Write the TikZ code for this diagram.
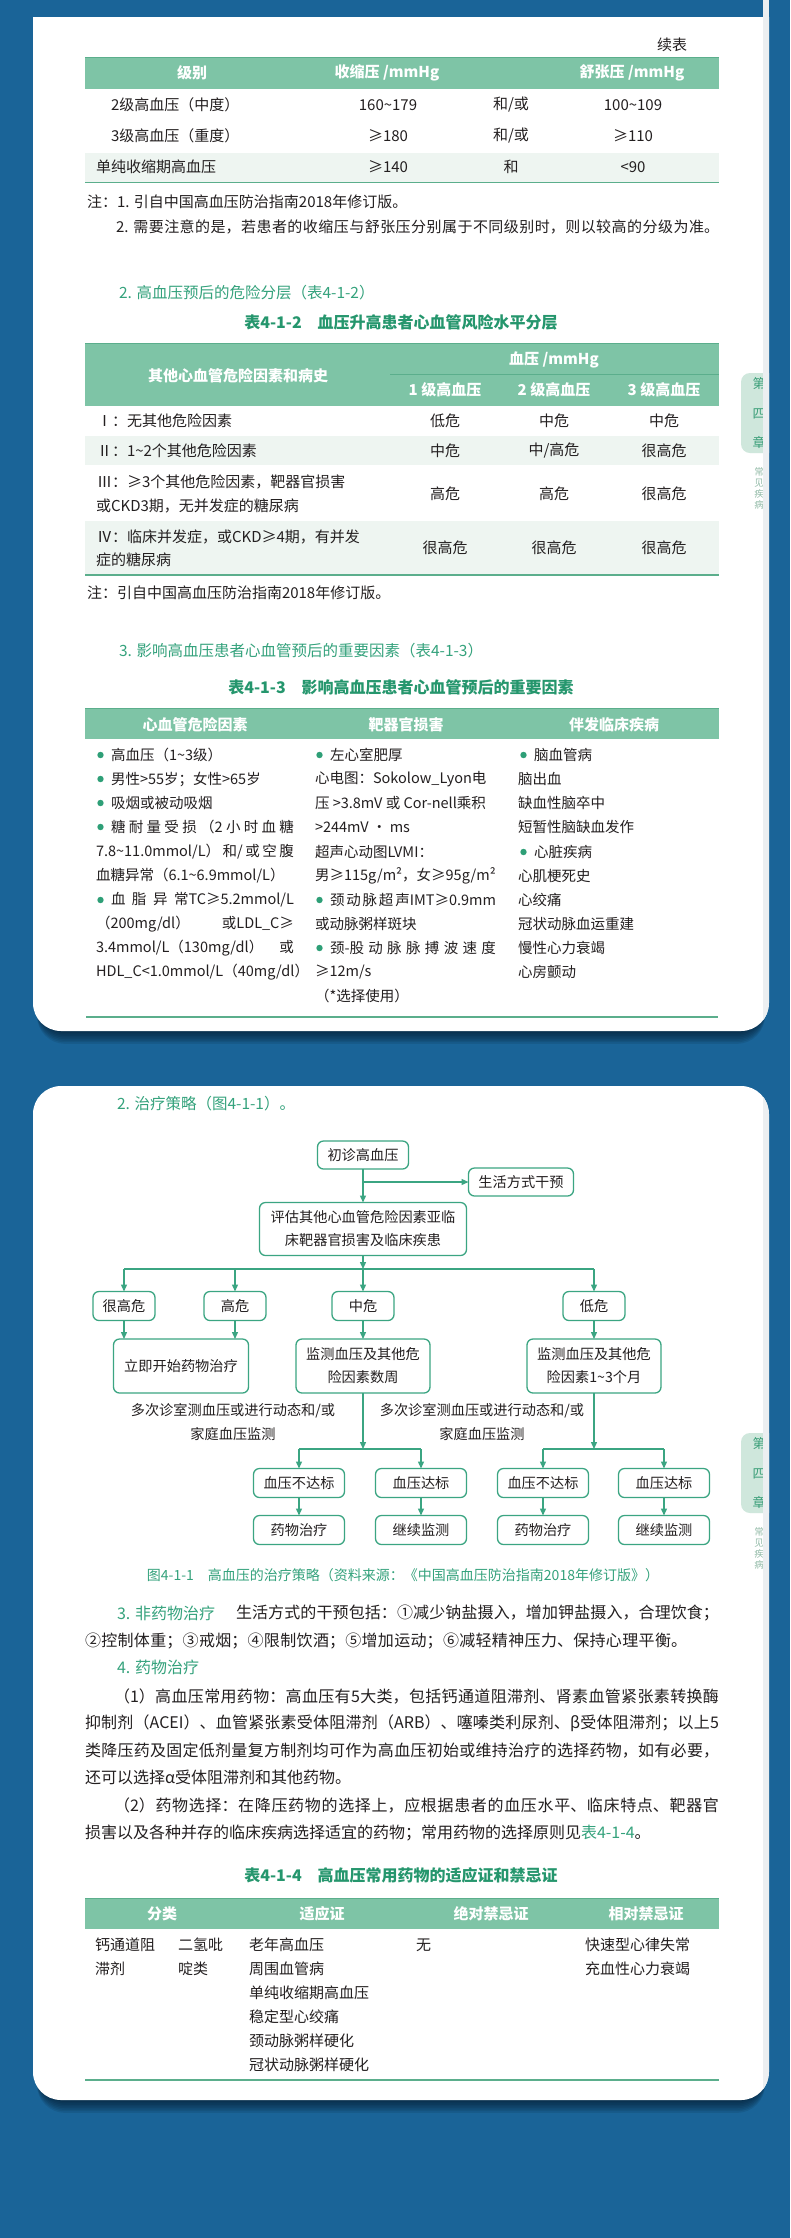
\documentclass[tikz,border=0pt]{standalone}
\usepackage{fontspec}
\setmainfont{Noto Sans CJK SC}
\usetikzlibrary{arrows.meta}
\definecolor{bgblue}{HTML}{1A6498}
\definecolor{shad}{HTML}{041A2C}
\definecolor{hdrgreen}{HTML}{7EC4A6}
\definecolor{rulegreen}{HTML}{5BAE8C}
\definecolor{rowfill}{HTML}{EEF5F1}
\definecolor{secgreen}{HTML}{34A27C}
\definecolor{ttlgreen}{HTML}{25966D}
\definecolor{boxgreen}{HTML}{3BA582}
\definecolor{bulgreen}{HTML}{2E9F77}
\definecolor{tblack}{HTML}{231F20}
\definecolor{tabfill}{HTML}{CFE7DC}
\definecolor{tabtext}{HTML}{3A9E78}
\definecolor{tabgrey}{HTML}{93BBA8}
\definecolor{edgegrey}{HTML}{ECEFF1}
\XeTeXlinebreaklocale "zh"
\XeTeXlinebreakskip=0pt plus 6pt minus 1pt
\newcommand\fsz[2]{\fontsize{#1}{#2}\selectfont}
\newcommand\ttil{\textasciitilde}
\newcommand\JL[1]{\noindent\tolerance=10000\hbadness=10000\parfillskip=0pt\relax #1\par}
\begin{document}
\begin{tikzpicture}[x=1pt, y=-1pt,
  every node/.style={inner sep=0pt, outer sep=0pt, text=tblack, font=\fsz{15}{18}},
  mytxt/.style={anchor=west},
  myctr/.style={anchor=center},
  myhdr/.style={anchor=center, text=white, font=\fsz{15}{18}\bfseries},
  mysec/.style={anchor=west, text=secgreen, font=\fsz{15.5}{18}},
  myttl/.style={anchor=center, text=ttlgreen, font=\fsz{16}{18}\bfseries},
  myjst/.style={anchor=west, align=justify, text width=#1},
  mypar/.style={anchor=west, font=\fsz{16}{20}},
  mypj/.style={mypar, align=justify, text width=#1},
  mysm/.style={anchor=west, font=\fsz{14.5}{18}},
  mysmj/.style={mysm, align=justify, text width=#1},
  mybox/.style={draw=boxgreen, line width=1.3pt, rounded corners=6pt, fill=white, align=center, font=\fsz{14.2}{23}},
  mylab/.style={anchor=center, font=\fsz{14.2}{18}},
  mycap/.style={anchor=center, text=secgreen, font=\fsz{14}{18}},
  myln/.style={draw=boxgreen, line width=1.3pt},
  myarr/.style={myln, -{Triangle[length=7pt,width=6pt]}},
  myrule/.style={draw=rulegreen, line width=1.5pt},
  bul/.style={fill=bulgreen},
  tabch/.style={anchor=center, text=tabtext, font=\fsz{13}{15}},
  tabsm/.style={anchor=center, text=tabgrey, font=\fsz{9.5}{11}, align=center},
]
\useasboundingbox (0,0) rectangle (790,2238);
\fill[bgblue] (0,0) rectangle (790,2238);
% shadows
\foreach \k in {1,...,8} {
  \fill[shad, opacity=0.12, rounded corners=28pt] (37,-60) rectangle (765,1031+1.6*\k);
  \fill[shad, opacity=0.12, rounded corners=28pt] (37,1090) rectangle (765,2100+1.6*\k);
}
% cards
\fill[white, rounded corners=28pt] (33,-60) rectangle (769,1031);
\fill[white, rounded corners=28pt] (33,1086) rectangle (769,2100);
\fill[bgblue] (0,0) rectangle (790,17);
% side tabs
\begin{scope}
\clip[rounded corners=28pt] (33,-60) rectangle (769,1031);
\fill[tabfill, rounded corners=9pt] (741,373) rectangle (800,453);
\node[tabch] (tA1) at (759,384) {第};
\node[tabch] (tA2) at (759,414) {四};
\node[tabch] (tA3) at (759,442) {章};
\node[tabsm] (tA4) at (759,488) {常\\见\\疾\\病};
\fill[edgegrey] (763,-60) rectangle (769,1031);
\end{scope}
\begin{scope}
\clip[rounded corners=28pt] (33,1086) rectangle (769,2100);
\fill[tabfill, rounded corners=9pt] (741,1433) rectangle (800,1513);
\node[tabch] (tB1) at (759,1444) {第};
\node[tabch] (tB2) at (759,1474) {四};
\node[tabch] (tB3) at (759,1502) {章};
\node[tabsm] (tB4) at (759,1548) {常\\见\\疾\\病};
\fill[edgegrey] (763,1086) rectangle (769,2100);
\end{scope}

% ===== table 1 (continued) =====
\node[mytxt, anchor=east] (xub) at (687,45) {续表};
\fill[hdrgreen] (85,57) rectangle (719,89);
\draw[myrule] (85,57.5) -- (719,57.5);
\node[myhdr] (t1h1) at (192,73) {级别};
\node[myhdr] (t1h2) at (387,73) {收缩压 /mmHg};
\node[myhdr] (t1h3) at (632,73) {舒张压 /mmHg};
\fill[rowfill] (85,153) rectangle (719,182);
\draw[myrule] (85,182.5) -- (719,182.5);
\node[mytxt] (t1a1) at (111,105) {2级高血压（中度）};
\node[myctr] (t1a2) at (388,105) {160\ttil179};
\node[myctr] (t1a3) at (511,105) {和/或};
\node[myctr] (t1a4) at (633,105) {100\ttil109};
\node[mytxt] (t1b1) at (111,136) {3级高血压（重度）};
\node[myctr] (t1b2) at (388,136) {≥180};
\node[myctr] (t1b3) at (511,136) {和/或};
\node[myctr] (t1b4) at (633,136) {≥110};
\node[mytxt] (t1c1) at (96,167) {单纯收缩期高血压};
\node[myctr] (t1c2) at (388,167) {≥140};
\node[myctr] (t1c3) at (511,167) {和};
\node[myctr] (t1c4) at (633,167) {<90};
\node[mytxt] (nt1) at (87,202) {注：1. 引自中国高血压防治指南2018年修订版。};
\node[myjst=603pt] (nt2) at (116,227) {\JL{2. 需要注意的是，若患者的收缩压与舒张压分别属于不同级别时，则以较高的分级为准。}};

% ===== table 4-1-2 =====
\node[mysec] (s2) at (119,293) {2. 高血压预后的危险分层（表4-1-2）};
\node[myttl] (tt2) at (401,322) {表4-1-2　血压升高患者心血管风险水平分层};
\fill[hdrgreen] (85,343) rectangle (719,406);
\draw[myrule] (85,343.5) -- (719,343.5);
\draw[rulegreen, line width=1pt] (390,374) -- (719,374);
\node[myhdr] (t2h0) at (554,360) {血压 /mmHg};
\node[myhdr] (t2h1) at (238,376) {其他心血管危险因素和病史};
\node[myhdr] (t2h2) at (445,390) {1 级高血压};
\node[myhdr] (t2h3) at (554,390) {2 级高血压};
\node[myhdr] (t2h4) at (664,390) {3 级高血压};
\fill[rowfill] (85,436) rectangle (719,465);
\fill[rowfill] (85,521) rectangle (719,574);
\draw[myrule] (85,575) -- (719,575);
\node[mytxt] (t2a0) at (97,421) {Ⅰ：无其他危险因素};
\node[myctr] (t2a1) at (445,421) {低危};
\node[myctr] (t2a2) at (554,421) {中危};
\node[myctr] (t2a3) at (664,421) {中危};
\node[mytxt] (t2b0) at (97,451) {Ⅱ：1\ttil2个其他危险因素};
\node[myctr] (t2b1) at (445,451) {中危};
\node[myctr] (t2b2) at (554,451) {中/高危};
\node[myctr] (t2b3) at (664,451) {很高危};
\node[mytxt] (t2c0) at (97,482) {Ⅲ：≥3个其他危险因素，靶器官损害};
\node[mytxt] (t2c4) at (96,506) {或CKD3期，无并发症的糖尿病};
\node[myctr] (t2c1) at (445,494) {高危};
\node[myctr] (t2c2) at (554,494) {高危};
\node[myctr] (t2c3) at (664,494) {很高危};
\node[mytxt] (t2d0) at (97,537) {Ⅳ：临床并发症，或CKD≥4期，有并发};
\node[mytxt] (t2d4) at (96,560) {症的糖尿病};
\node[myctr] (t2d1) at (445,548) {很高危};
\node[myctr] (t2d2) at (554,548) {很高危};
\node[myctr] (t2d3) at (664,548) {很高危};
\node[mytxt] (nt3) at (87,593) {注：引自中国高血压防治指南2018年修订版。};

% ===== table 4-1-3 =====
\node[mysec] (s3) at (119,651) {3. 影响高血压患者心血管预后的重要因素（表4-1-3）};
\node[myttl] (tt3) at (401,687) {表4-1-3　影响高血压患者心血管预后的重要因素};
\fill[hdrgreen] (85,708) rectangle (719,739);
\draw[myrule] (85,708.5) -- (719,708.5);
\node[myhdr] (t3h1) at (195,725) {心血管危险因素};
\node[myhdr] (t3h2) at (406,725) {靶器官损害};
\node[myhdr] (t3h3) at (614,725) {伴发临床疾病};
% column 1
\foreach \y in {755,779,803,827,900} \fill[bul] (100.5,\y) circle (3.2pt);
\node[mysm] (k1a) at (111,755) {高血压（1\ttil3级）};
\node[mysm] (k1b) at (111,779) {男性>55岁；女性>65岁};
\node[mysm] (k1c) at (111,803) {吸烟或被动吸烟};
\node[mysmj=183pt] (k1d) at (111,827) {\JL{糖耐量受损（2小时血糖}};
\node[mysmj=198pt] (k1e) at (96,852) {\JL{\mbox{7.8\ttil11.0mmol/L}）和/或空腹}};
\node[mysm] (k1f) at (96,876) {血糖异常（6.1\ttil6.9mmol/L）};
\node[mysmj=183pt] (k1g) at (111,900) {\JL{血脂异常\mbox{TC≥5.2mmol/L}}};
\node[mysmj=198pt] (k1h) at (96,924) {\JL{（\mbox{200mg/dl}）或\mbox{LDL\_C≥}}};
\node[mysmj=198pt] (k1i) at (96,948) {\JL{\mbox{3.4mmol/L}（\mbox{130mg/dl}）或}};
\node[mysm] (k1j) at (96,972) {HDL\_C<1.0mmol/L（40mg/dl）};
% column 2
\foreach \y in {755,900,948} \fill[bul] (319.5,\y) circle (3.2pt);
\node[mysm] (k2a) at (330,755) {左心室肥厚};
\node[mysm] (k2b) at (315,779) {心电图：Sokolow\_Lyon电};
\node[mysm] (k2c) at (315,803) {压 >3.8mV 或 Cor-nell乘积};
\node[mysm] (k2d) at (315,827) {>244mV · ms};
\node[mysm] (k2e) at (315,852) {超声心动图LVMI：};
\node[mysm] (k2f) at (315,876) {男≥115g/m²，女≥95g/m²};
\node[mysmj=166pt] (k2g) at (330,900) {\JL{颈动脉超声\mbox{IMT≥0.9mm}}};
\node[mysm] (k2h) at (315,924) {或动脉粥样斑块};
\node[mysmj=166pt] (k2i) at (330,948) {\JL{颈-股动脉脉搏波速度}};
\node[mysm] (k2j) at (315,972) {≥12m/s};
\node[mysm] (k2k) at (315,996) {（*选择使用）};
% column 3
\foreach \y in {755,852} \fill[bul] (523.5,\y) circle (3.2pt);
\node[mysm] (k3a) at (534,755) {脑血管病};
\node[mysm] (k3e) at (534,852) {心脏疾病};
\foreach \y/\t [count=\i] in {779/脑出血,803/缺血性脑卒中,827/短暂性脑缺血发作,876/心肌梗死史,900/心绞痛,924/冠状动脉血运重建,948/慢性心力衰竭,972/心房颤动}
  \node[mysm] (k3l\i) at (518,\y) {\t};
\draw[myrule] (86,1017) -- (718,1017);

% ===== card 2: flowchart =====
\node[mysec] (s4) at (117,1104) {2. 治疗策略（图4-1-1）。};
\node[mybox, minimum width=91pt, minimum height=28pt] (n0) at (363,1155) {初诊高血压};
\node[mybox, minimum width=105pt, minimum height=28pt] (nl) at (521,1182) {生活方式干预};
\node[mybox, minimum width=207pt, minimum height=53pt] (n1) at (363,1229) {评估其他心血管危险因素亚临\\床靶器官损害及临床疾患};
\node[mybox, minimum width=62pt, minimum height=29pt] (r1) at (124,1306) {很高危};
\node[mybox, minimum width=62pt, minimum height=29pt] (r2) at (235,1306) {高危};
\node[mybox, minimum width=62pt, minimum height=29pt] (r3) at (363,1306) {中危};
\node[mybox, minimum width=62pt, minimum height=29pt] (r4) at (594,1306) {低危};
\node[mybox, minimum width=135pt, minimum height=54pt] (a1) at (181,1366) {立即开始药物治疗};
\node[mybox, minimum width=134pt, minimum height=54pt] (a2) at (363,1366) {监测血压及其他危\\险因素数周};
\node[mybox, minimum width=134pt, minimum height=54pt] (a3) at (594,1366) {监测血压及其他危\\险因素1\ttil3个月};
\node[mylab] (lb1) at (233,1411) {多次诊室测血压或进行动态和/或};
\node[mylab] (lb2) at (233,1434) {家庭血压监测};
\node[mylab] (lb3) at (482,1411) {多次诊室测血压或进行动态和/或};
\node[mylab] (lb4) at (482,1434) {家庭血压监测};
\foreach \n/\x/\t in {b1/299/血压不达标, b2/421/血压达标, b3/543/血压不达标, b4/664/血压达标}
  \node[mybox, minimum width=91pt, minimum height=29pt] (\n) at (\x,1483) {\t};
\foreach \n/\x/\t in {c1/299/药物治疗, c2/421/继续监测, c3/543/药物治疗, c4/664/继续监测}
  \node[mybox, minimum width=91pt, minimum height=29pt] (\n) at (\x,1530) {\t};
% connectors
\coordinate (j0) at (n0.south |- nl.west);
\draw[myarr] (n0) -- (n1);
\draw[myarr] (j0) -- (nl);
\coordinate (bar1) at (363,1269);
\draw[myarr] (n1) -- (bar1);
\draw[myln] (bar1 -| r1) -- (bar1 -| r4);
\foreach \r in {r1,r2,r3,r4} \draw[myarr] (bar1 -| \r) -- (\r);
\draw[myarr] (r1) -- (r1 |- a1.north);
\draw[myarr] (r2) -- (r2 |- a1.north);
\draw[myarr] (r3) -- (a2);
\draw[myarr] (r4) -- (a3);
\coordinate (bar2) at (363,1449);
\coordinate (bar3) at (594,1449);
\draw[myarr] (a2) -- (bar2);
\draw[myarr] (a3) -- (bar3);
\draw[myln] (bar2 -| b1) -- (bar2 -| b2);
\draw[myln] (bar3 -| b3) -- (bar3 -| b4);
\draw[myarr] (bar2 -| b1) -- (b1);
\draw[myarr] (bar2 -| b2) -- (b2);
\draw[myarr] (bar3 -| b3) -- (b3);
\draw[myarr] (bar3 -| b4) -- (b4);
\draw[myarr] (b1) -- (c1);
\draw[myarr] (b2) -- (c2);
\draw[myarr] (b3) -- (c3);
\draw[myarr] (b4) -- (c4);
\node[mycap] (cap) at (403,1575) {图4-1-1　高血压的治疗策略（资料来源：《中国高血压防治指南2018年修订版》）};

% ===== paragraphs =====
\node[mysec, font=\fsz{16}{20}] (p1a) at (117,1613) {3. 非药物治疗};
\node[mypj=483pt] (p1b) at (236,1613) {\JL{生活方式的干预包括：①减少钠盐摄入，增加钾盐摄入，合理饮食；}};
\node[mypj=602pt] (p1c) at (85,1641) {\JL{②控制体重；③戒烟；④限制饮酒；⑤增加运动；⑥减轻精神压力、保持心理平衡。}};
\node[mysec, font=\fsz{16}{20}] (p2) at (117,1667) {4. 药物治疗};
\node[mypj=605pt] (p3a) at (114,1696) {\JL{（1）高血压常用药物：高血压有5大类，包括钙通道阻滞剂、肾素血管紧张素转换酶}};
\node[mypj=634pt] (p3b) at (85,1723) {\JL{抑制剂（ACEI）、血管紧张素受体阻滞剂（ARB）、噻嗪类利尿剂、β受体阻滞剂；以上5}};
\node[mypj=634pt] (p3c) at (85,1751) {\JL{类降压药及固定低剂量复方制剂均可作为高血压初始或维持治疗的选择药物，如有必要，}};
\node[mypar] (p3d) at (85,1777) {还可以选择α受体阻滞剂和其他药物。};
\node[mypj=605pt] (p4a) at (114,1805) {\JL{（2）药物选择：在降压药物的选择上，应根据患者的血压水平、临床特点、靶器官}};
\node[mypar] (p4b) at (85,1833) {损害以及各种并存的临床疾病选择适宜的药物；常用药物的选择原则见\textcolor{secgreen}{表4-1-4}。};

% ===== table 4-1-4 =====
\node[myttl] (tt4) at (401,1875) {表4-1-4　高血压常用药物的适应证和禁忌证};
\fill[hdrgreen] (85,1898) rectangle (719,1929);
\draw[myrule] (85,1898.5) -- (719,1898.5);
\node[myhdr] (t4h1) at (162,1914) {分类};
\node[myhdr] (t4h2) at (322,1914) {适应证};
\node[myhdr] (t4h3) at (491,1914) {绝对禁忌证};
\node[myhdr] (t4h4) at (646,1914) {相对禁忌证};
\node[mytxt] (t4a1) at (95,1945) {钙通道阻};
\node[mytxt] (t4a2) at (95,1969) {滞剂};
\node[mytxt] (t4b1) at (178,1945) {二氢吡};
\node[mytxt] (t4b2) at (178,1969) {啶类};
\foreach \y/\t [count=\i] in {1945/老年高血压,1969/周围血管病,1993/单纯收缩期高血压,2017/稳定型心绞痛,2041/颈动脉粥样硬化,2065/冠状动脉粥样硬化}
  \node[mytxt] (t4c\i) at (249,\y) {\t};
\node[mytxt] (t4d1) at (416,1945) {无};
\node[mytxt] (t4e1) at (585,1945) {快速型心律失常};
\node[mytxt] (t4e2) at (585,1969) {充血性心力衰竭};
\draw[myrule] (85,2080) -- (719,2080);
\end{tikzpicture}
\end{document}
